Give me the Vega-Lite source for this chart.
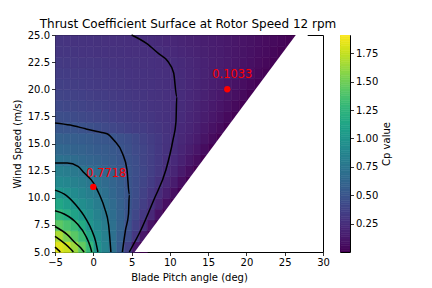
{
"$schema": "https://vega.github.io/schema/vega-lite/v6.json",
"background": "white",
"padding": {"left": 11, "top": 17, "right": 5, "bottom": 2},
"title": {"text": "Thrust Coefficient Surface at Rotor Speed 12 rpm", "anchor": "start", "dx": 28, "offset": -1, "fontSize": 12, "fontWeight": "normal", "font": "DejaVu Sans", "color": "black"},
"spacing": 9,
"datasets": {
"grid": [
{"p":-5,"v":5,"c":1.82},{"p":-4,"v":5,"c":1.76},{"p":-3,"v":5,"c":1.62},{"p":-2,"v":5,"c":1.45},{"p":-1,"v":5,"c":1.27},{"p":0,"v":5,"c":0.99},{"p":1,"v":5,"c":0.85},{"p":2,"v":5,"c":0.71},{"p":3,"v":5,"c":0.55},{"p":4,"v":5,"c":0.37},{"p":5,"v":5,"c":0.12},{"p":6,"v":5,"c":0.003},
{"p":-5,"v":6,"c":1.67},{"p":-4,"v":6,"c":1.53},{"p":-3,"v":6,"c":1.42},{"p":-2,"v":6,"c":1.31},{"p":-1,"v":6,"c":1.13},{"p":0,"v":6,"c":0.95},{"p":1,"v":6,"c":0.82},{"p":2,"v":6,"c":0.70},{"p":3,"v":6,"c":0.57},{"p":4,"v":6,"c":0.44},{"p":5,"v":6,"c":0.30},{"p":6,"v":6,"c":0.11},{"p":7,"v":6,"c":0.003},
{"p":-5,"v":7,"c":1.43},{"p":-4,"v":7,"c":1.36},{"p":-3,"v":7,"c":1.29},{"p":-2,"v":7,"c":1.16},{"p":-1,"v":7,"c":0.99},{"p":0,"v":7,"c":0.90},{"p":1,"v":7,"c":0.80},{"p":2,"v":7,"c":0.70},{"p":3,"v":7,"c":0.59},{"p":4,"v":7,"c":0.48},{"p":5,"v":7,"c":0.36},{"p":6,"v":7,"c":0.25},{"p":7,"v":7,"c":0.09},{"p":8,"v":7,"c":0.003},
{"p":-5,"v":8,"c":1.26},{"p":-4,"v":8,"c":1.19},{"p":-3,"v":8,"c":1.10},{"p":-2,"v":8,"c":1.01},{"p":-1,"v":8,"c":0.93},{"p":0,"v":8,"c":0.84},{"p":1,"v":8,"c":0.76},{"p":2,"v":8,"c":0.68},{"p":3,"v":8,"c":0.59},{"p":4,"v":8,"c":0.50},{"p":5,"v":8,"c":0.40},{"p":6,"v":8,"c":0.31},{"p":7,"v":8,"c":0.21},{"p":8,"v":8,"c":0.08},{"p":9,"v":8,"c":0.003},
{"p":-5,"v":9,"c":1.13},{"p":-4,"v":9,"c":1.06},{"p":-3,"v":9,"c":1.00},{"p":-2,"v":9,"c":0.93},{"p":-1,"v":9,"c":0.87},{"p":0,"v":9,"c":0.80},{"p":1,"v":9,"c":0.73},{"p":2,"v":9,"c":0.66},{"p":3,"v":9,"c":0.58},{"p":4,"v":9,"c":0.51},{"p":5,"v":9,"c":0.43},{"p":6,"v":9,"c":0.35},{"p":7,"v":9,"c":0.27},{"p":8,"v":9,"c":0.18},{"p":9,"v":9,"c":0.075},{"p":10,"v":9,"c":0.003},
{"p":-5,"v":10,"c":1.00},{"p":-4,"v":10,"c":0.96},{"p":-3,"v":10,"c":0.91},{"p":-2,"v":10,"c":0.86},{"p":-1,"v":10,"c":0.81},{"p":0,"v":10,"c":0.76},{"p":1,"v":10,"c":0.70},{"p":2,"v":10,"c":0.63},{"p":3,"v":10,"c":0.57},{"p":4,"v":10,"c":0.51},{"p":5,"v":10,"c":0.44},{"p":6,"v":10,"c":0.37},{"p":7,"v":10,"c":0.30},{"p":8,"v":10,"c":0.235},{"p":9,"v":10,"c":0.16},{"p":10,"v":10,"c":0.07},{"p":11,"v":10,"c":0.003},
{"p":-5,"v":11,"c":0.90},{"p":-4,"v":11,"c":0.87},{"p":-3,"v":11,"c":0.83},{"p":-2,"v":11,"c":0.80},{"p":-1,"v":11,"c":0.76},{"p":0,"v":11,"c":0.72},{"p":1,"v":11,"c":0.66},{"p":2,"v":11,"c":0.61},{"p":3,"v":11,"c":0.56},{"p":4,"v":11,"c":0.50},{"p":5,"v":11,"c":0.44},{"p":6,"v":11,"c":0.39},{"p":7,"v":11,"c":0.33},{"p":8,"v":11,"c":0.27},{"p":9,"v":11,"c":0.21},{"p":10,"v":11,"c":0.14},{"p":11,"v":11,"c":0.067},{"p":12,"v":11,"c":0.003},
{"p":-5,"v":12,"c":0.82},{"p":-4,"v":12,"c":0.80},{"p":-3,"v":12,"c":0.77},{"p":-2,"v":12,"c":0.75},{"p":-1,"v":12,"c":0.71},{"p":0,"v":12,"c":0.67},{"p":1,"v":12,"c":0.62},{"p":2,"v":12,"c":0.58},{"p":3,"v":12,"c":0.54},{"p":4,"v":12,"c":0.50},{"p":5,"v":12,"c":0.45},{"p":6,"v":12,"c":0.40},{"p":7,"v":12,"c":0.35},{"p":8,"v":12,"c":0.30},{"p":9,"v":12,"c":0.25},{"p":10,"v":12,"c":0.19},{"p":11,"v":12,"c":0.13},{"p":12,"v":12,"c":0.063},{"p":13,"v":12,"c":0.003},
{"p":-5,"v":13,"c":0.72},{"p":-4,"v":13,"c":0.69},{"p":-3,"v":13,"c":0.67},{"p":-2,"v":13,"c":0.64},{"p":-1,"v":13,"c":0.61},{"p":0,"v":13,"c":0.59},{"p":1,"v":13,"c":0.56},{"p":2,"v":13,"c":0.54},{"p":3,"v":13,"c":0.51},{"p":4,"v":13,"c":0.48},{"p":5,"v":13,"c":0.44},{"p":6,"v":13,"c":0.39},{"p":7,"v":13,"c":0.35},{"p":8,"v":13,"c":0.31},{"p":9,"v":13,"c":0.26},{"p":10,"v":13,"c":0.22},{"p":11,"v":13,"c":0.17},{"p":12,"v":13,"c":0.115},{"p":13,"v":13,"c":0.058},{"p":14,"v":13,"c":0.003},
{"p":-5,"v":14,"c":0.64},{"p":-4,"v":14,"c":0.62},{"p":-3,"v":14,"c":0.60},{"p":-2,"v":14,"c":0.59},{"p":-1,"v":14,"c":0.57},{"p":0,"v":14,"c":0.55},{"p":1,"v":14,"c":0.54},{"p":2,"v":14,"c":0.52},{"p":3,"v":14,"c":0.50},{"p":4,"v":14,"c":0.46},{"p":5,"v":14,"c":0.42},{"p":6,"v":14,"c":0.39},{"p":7,"v":14,"c":0.35},{"p":8,"v":14,"c":0.31},{"p":9,"v":14,"c":0.27},{"p":10,"v":14,"c":0.235},{"p":11,"v":14,"c":0.19},{"p":12,"v":14,"c":0.15},{"p":13,"v":14,"c":0.104},{"p":14,"v":14,"c":0.054},{"p":15,"v":14,"c":0.003},
{"p":-5,"v":15,"c":0.58},{"p":-4,"v":15,"c":0.57},{"p":-3,"v":15,"c":0.56},{"p":-2,"v":15,"c":0.55},{"p":-1,"v":15,"c":0.54},{"p":0,"v":15,"c":0.52},{"p":1,"v":15,"c":0.51},{"p":2,"v":15,"c":0.50},{"p":3,"v":15,"c":0.47},{"p":4,"v":15,"c":0.44},{"p":5,"v":15,"c":0.41},{"p":6,"v":15,"c":0.37},{"p":7,"v":15,"c":0.34},{"p":8,"v":15,"c":0.31},{"p":9,"v":15,"c":0.28},{"p":10,"v":15,"c":0.25},{"p":11,"v":15,"c":0.21},{"p":12,"v":15,"c":0.175},{"p":13,"v":15,"c":0.136},{"p":14,"v":15,"c":0.095},{"p":15,"v":15,"c":0.05},{"p":16,"v":15,"c":0.003},
{"p":-5,"v":16,"c":0.51},{"p":-4,"v":16,"c":0.50},{"p":-3,"v":16,"c":0.50},{"p":-2,"v":16,"c":0.48},{"p":-1,"v":16,"c":0.46},{"p":0,"v":16,"c":0.44},{"p":1,"v":16,"c":0.42},{"p":2,"v":16,"c":0.40},{"p":3,"v":16,"c":0.38},{"p":4,"v":16,"c":0.36},{"p":5,"v":16,"c":0.34},{"p":6,"v":16,"c":0.33},{"p":7,"v":16,"c":0.31},{"p":8,"v":16,"c":0.29},{"p":9,"v":16,"c":0.27},{"p":10,"v":16,"c":0.25},{"p":11,"v":16,"c":0.22},{"p":12,"v":16,"c":0.19},{"p":13,"v":16,"c":0.16},{"p":14,"v":16,"c":0.124},{"p":15,"v":16,"c":0.088},{"p":16,"v":16,"c":0.049},{"p":17,"v":16,"c":0.004},{"p":18,"v":16,"c":0.003},
{"p":-5,"v":17,"c":0.453},{"p":-4,"v":17,"c":0.44},{"p":-3,"v":17,"c":0.427},{"p":-2,"v":17,"c":0.414},{"p":-1,"v":17,"c":0.40},{"p":0,"v":17,"c":0.387},{"p":1,"v":17,"c":0.374},{"p":2,"v":17,"c":0.36},{"p":3,"v":17,"c":0.347},{"p":4,"v":17,"c":0.334},{"p":5,"v":17,"c":0.321},{"p":6,"v":17,"c":0.307},{"p":7,"v":17,"c":0.294},{"p":8,"v":17,"c":0.281},{"p":9,"v":17,"c":0.267},{"p":10,"v":17,"c":0.254},{"p":11,"v":17,"c":0.23},{"p":12,"v":17,"c":0.20},{"p":13,"v":17,"c":0.174},{"p":14,"v":17,"c":0.144},{"p":15,"v":17,"c":0.114},{"p":16,"v":17,"c":0.081},{"p":17,"v":17,"c":0.046},{"p":18,"v":17,"c":0.005},{"p":19,"v":17,"c":0.003},
{"p":-5,"v":18,"c":0.415},{"p":-4,"v":18,"c":0.404},{"p":-3,"v":18,"c":0.393},{"p":-2,"v":18,"c":0.383},{"p":-1,"v":18,"c":0.372},{"p":0,"v":18,"c":0.361},{"p":1,"v":18,"c":0.351},{"p":2,"v":18,"c":0.34},{"p":3,"v":18,"c":0.329},{"p":4,"v":18,"c":0.318},{"p":5,"v":18,"c":0.308},{"p":6,"v":18,"c":0.297},{"p":7,"v":18,"c":0.286},{"p":8,"v":18,"c":0.276},{"p":9,"v":18,"c":0.265},{"p":10,"v":18,"c":0.254},{"p":11,"v":18,"c":0.235},{"p":12,"v":18,"c":0.21},{"p":13,"v":18,"c":0.18},{"p":14,"v":18,"c":0.16},{"p":15,"v":18,"c":0.13},{"p":16,"v":18,"c":0.104},{"p":17,"v":18,"c":0.075},{"p":18,"v":18,"c":0.043},{"p":19,"v":18,"c":0.006},{"p":20,"v":18,"c":0.003},
{"p":-5,"v":19,"c":0.386},{"p":-4,"v":19,"c":0.377},{"p":-3,"v":19,"c":0.368},{"p":-2,"v":19,"c":0.359},{"p":-1,"v":19,"c":0.35},{"p":0,"v":19,"c":0.341},{"p":1,"v":19,"c":0.333},{"p":2,"v":19,"c":0.324},{"p":3,"v":19,"c":0.315},{"p":4,"v":19,"c":0.306},{"p":5,"v":19,"c":0.297},{"p":6,"v":19,"c":0.288},{"p":7,"v":19,"c":0.28},{"p":8,"v":19,"c":0.271},{"p":9,"v":19,"c":0.262},{"p":10,"v":19,"c":0.253},{"p":11,"v":19,"c":0.236},{"p":12,"v":19,"c":0.214},{"p":13,"v":19,"c":0.19},{"p":14,"v":19,"c":0.17},{"p":15,"v":19,"c":0.145},{"p":16,"v":19,"c":0.12},{"p":17,"v":19,"c":0.095},{"p":18,"v":19,"c":0.069},{"p":19,"v":19,"c":0.041},{"p":20,"v":19,"c":0.008},{"p":21,"v":19,"c":0.003},
{"p":-5,"v":20,"c":0.356},{"p":-4,"v":20,"c":0.349},{"p":-3,"v":20,"c":0.342},{"p":-2,"v":20,"c":0.335},{"p":-1,"v":20,"c":0.328},{"p":0,"v":20,"c":0.321},{"p":1,"v":20,"c":0.314},{"p":2,"v":20,"c":0.307},{"p":3,"v":20,"c":0.30},{"p":4,"v":20,"c":0.293},{"p":5,"v":20,"c":0.286},{"p":6,"v":20,"c":0.279},{"p":7,"v":20,"c":0.272},{"p":8,"v":20,"c":0.265},{"p":9,"v":20,"c":0.258},{"p":10,"v":20,"c":0.251},{"p":11,"v":20,"c":0.234},{"p":12,"v":20,"c":0.214},{"p":13,"v":20,"c":0.195},{"p":14,"v":20,"c":0.174},{"p":15,"v":20,"c":0.154},{"p":16,"v":20,"c":0.132},{"p":17,"v":20,"c":0.11},{"p":18,"v":20,"c":0.088},{"p":19,"v":20,"c":0.064},{"p":20,"v":20,"c":0.038},{"p":21,"v":20,"c":0.009},{"p":22,"v":20,"c":0.003},
{"p":-5,"v":21,"c":0.337},{"p":-4,"v":21,"c":0.331},{"p":-3,"v":21,"c":0.326},{"p":-2,"v":21,"c":0.32},{"p":-1,"v":21,"c":0.314},{"p":0,"v":21,"c":0.308},{"p":1,"v":21,"c":0.302},{"p":2,"v":21,"c":0.297},{"p":3,"v":21,"c":0.291},{"p":4,"v":21,"c":0.285},{"p":5,"v":21,"c":0.279},{"p":6,"v":21,"c":0.273},{"p":7,"v":21,"c":0.268},{"p":8,"v":21,"c":0.262},{"p":9,"v":21,"c":0.256},{"p":10,"v":21,"c":0.25},{"p":11,"v":21,"c":0.233},{"p":12,"v":21,"c":0.214},{"p":13,"v":21,"c":0.197},{"p":14,"v":21,"c":0.179},{"p":15,"v":21,"c":0.16},{"p":16,"v":21,"c":0.14},{"p":17,"v":21,"c":0.122},{"p":18,"v":21,"c":0.10},{"p":19,"v":21,"c":0.08},{"p":20,"v":21,"c":0.06},{"p":21,"v":21,"c":0.037},{"p":22,"v":21,"c":0.01},{"p":23,"v":21,"c":0.003},
{"p":-5,"v":22,"c":0.318},{"p":-4,"v":22,"c":0.313},{"p":-3,"v":22,"c":0.308},{"p":-2,"v":22,"c":0.303},{"p":-1,"v":22,"c":0.299},{"p":0,"v":22,"c":0.294},{"p":1,"v":22,"c":0.289},{"p":2,"v":22,"c":0.284},{"p":3,"v":22,"c":0.28},{"p":4,"v":22,"c":0.275},{"p":5,"v":22,"c":0.27},{"p":6,"v":22,"c":0.266},{"p":7,"v":22,"c":0.261},{"p":8,"v":22,"c":0.256},{"p":9,"v":22,"c":0.251},{"p":10,"v":22,"c":0.239},{"p":11,"v":22,"c":0.224},{"p":12,"v":22,"c":0.208},{"p":13,"v":22,"c":0.193},{"p":14,"v":22,"c":0.177},{"p":15,"v":22,"c":0.16},{"p":16,"v":22,"c":0.144},{"p":17,"v":22,"c":0.127},{"p":18,"v":22,"c":0.11},{"p":19,"v":22,"c":0.092},{"p":20,"v":22,"c":0.074},{"p":21,"v":22,"c":0.055},{"p":22,"v":22,"c":0.034},{"p":23,"v":22,"c":0.01},{"p":24,"v":22,"c":0.003},
{"p":-5,"v":23,"c":0.298},{"p":-4,"v":23,"c":0.294},{"p":-3,"v":23,"c":0.29},{"p":-2,"v":23,"c":0.287},{"p":-1,"v":23,"c":0.283},{"p":0,"v":23,"c":0.279},{"p":1,"v":23,"c":0.275},{"p":2,"v":23,"c":0.271},{"p":3,"v":23,"c":0.268},{"p":4,"v":23,"c":0.264},{"p":5,"v":23,"c":0.26},{"p":6,"v":23,"c":0.256},{"p":7,"v":23,"c":0.252},{"p":8,"v":23,"c":0.246},{"p":9,"v":23,"c":0.233},{"p":10,"v":23,"c":0.22},{"p":11,"v":23,"c":0.207},{"p":12,"v":23,"c":0.194},{"p":13,"v":23,"c":0.18},{"p":14,"v":23,"c":0.167},{"p":15,"v":23,"c":0.153},{"p":16,"v":23,"c":0.139},{"p":17,"v":23,"c":0.125},{"p":18,"v":23,"c":0.11},{"p":19,"v":23,"c":0.095},{"p":20,"v":23,"c":0.081},{"p":21,"v":23,"c":0.064},{"p":22,"v":23,"c":0.048},{"p":23,"v":23,"c":0.03},{"p":24,"v":23,"c":0.01},{"p":25,"v":23,"c":0.003},
{"p":-5,"v":24,"c":0.288},{"p":-4,"v":24,"c":0.284},{"p":-3,"v":24,"c":0.281},{"p":-2,"v":24,"c":0.277},{"p":-1,"v":24,"c":0.274},{"p":0,"v":24,"c":0.27},{"p":1,"v":24,"c":0.266},{"p":2,"v":24,"c":0.263},{"p":3,"v":24,"c":0.259},{"p":4,"v":24,"c":0.256},{"p":5,"v":24,"c":0.252},{"p":6,"v":24,"c":0.247},{"p":7,"v":24,"c":0.236},{"p":8,"v":24,"c":0.226},{"p":9,"v":24,"c":0.214},{"p":10,"v":24,"c":0.204},{"p":11,"v":24,"c":0.192},{"p":12,"v":24,"c":0.181},{"p":13,"v":24,"c":0.169},{"p":14,"v":24,"c":0.158},{"p":15,"v":24,"c":0.146},{"p":16,"v":24,"c":0.134},{"p":17,"v":24,"c":0.122},{"p":18,"v":24,"c":0.11},{"p":19,"v":24,"c":0.097},{"p":20,"v":24,"c":0.084},{"p":21,"v":24,"c":0.071},{"p":22,"v":24,"c":0.057},{"p":23,"v":24,"c":0.043},{"p":24,"v":24,"c":0.028},{"p":25,"v":24,"c":0.01},{"p":26,"v":24,"c":0.003}
],
"edge": [
{"v":5,"pb":5.4},
{"v":25,"pb":26.45}
],
"contours": [
{"k":"A","i":0,"p":5.0,"v":25},{"k":"A","i":1,"p":7.0,"v":24.2},{"k":"A","i":2,"p":8.5,"v":23.3},{"k":"A","i":3,"p":9.7,"v":22.6},{"k":"A","i":4,"p":10.5,"v":21.5},{"k":"A","i":5,"p":10.9,"v":19.3},{"k":"A","i":6,"p":10.8,"v":17},{"k":"A","i":7,"p":10.4,"v":15.3},{"k":"A","i":8,"p":9.5,"v":12.6},{"k":"A","i":9,"p":7.9,"v":9.8},{"k":"A","i":10,"p":6.2,"v":7.0},{"k":"A","i":11,"p":4.7,"v":5},
{"k":"B","i":0,"p":-5,"v":16.9},{"k":"B","i":1,"p":-3,"v":16.7},{"k":"B","i":2,"p":-1,"v":16.35},{"k":"B","i":3,"p":0.5,"v":16.1},{"k":"B","i":4,"p":1.8,"v":15.9},{"k":"B","i":5,"p":2.7,"v":15.3},{"k":"B","i":6,"p":3.8,"v":14.1},{"k":"B","i":7,"p":4.4,"v":12.6},{"k":"B","i":8,"p":4.7,"v":10.3},{"k":"B","i":9,"p":4.6,"v":8.5},{"k":"B","i":10,"p":4.2,"v":7.0},{"k":"B","i":11,"p":3.8,"v":5},
{"k":"C","i":0,"p":-5,"v":13.2},{"k":"C","i":1,"p":-3.4,"v":13.2},{"k":"C","i":2,"p":-2,"v":12.9},{"k":"C","i":3,"p":-1.2,"v":12.3},{"k":"C","i":4,"p":0,"v":11.4},{"k":"C","i":5,"p":0.8,"v":10.3},{"k":"C","i":6,"p":1.5,"v":9},{"k":"C","i":7,"p":2,"v":7.5},{"k":"C","i":8,"p":2.3,"v":5},
{"k":"D","i":0,"p":-5,"v":10.7},{"k":"D","i":1,"p":-3.5,"v":10.2},{"k":"D","i":2,"p":-2.3,"v":9.35},{"k":"D","i":3,"p":-1,"v":8.1},{"k":"D","i":4,"p":-0.2,"v":7.0},{"k":"D","i":5,"p":0.3,"v":6.0},{"k":"D","i":6,"p":0.6,"v":5},
{"k":"E","i":0,"p":-5,"v":8.8},{"k":"E","i":1,"p":-3.8,"v":8.5},{"k":"E","i":2,"p":-2.1,"v":7.6},{"k":"E","i":3,"p":-1,"v":6.5},{"k":"E","i":4,"p":-0.4,"v":5.5},{"k":"E","i":5,"p":-0.2,"v":5},
{"k":"F","i":0,"p":-5,"v":7.35},{"k":"F","i":1,"p":-3.4,"v":6.6},{"k":"F","i":2,"p":-2.3,"v":5.8},{"k":"F","i":3,"p":-1.65,"v":5.4},{"k":"F","i":4,"p":-1.2,"v":5},
{"k":"G","i":0,"p":-5,"v":6.45},{"k":"G","i":1,"p":-4.3,"v":6.1},{"k":"G","i":2,"p":-3.6,"v":5.7},{"k":"G","i":3,"p":-3.0,"v":5.3},{"k":"G","i":4,"p":-2.6,"v":5},
{"k":"H","i":0,"p":-5,"v":5.45},{"k":"H","i":1,"p":-4.6,"v":5.2},{"k":"H","i":2,"p":-4.3,"v":5}
],
"pts": [
{"p":0,"v":11,"lab":"0.7718"},
{"p":17.5,"v":20,"lab":"0.1033"}
],
"cbar": [
{"c":0.00},{"c":0.02},{"c":0.04},{"c":0.06},{"c":0.08},{"c":0.10},{"c":0.12},{"c":0.14},{"c":0.16},{"c":0.18},
{"c":0.20},{"c":0.22},{"c":0.24},{"c":0.26},{"c":0.28},{"c":0.30},{"c":0.32},{"c":0.34},{"c":0.36},{"c":0.38},
{"c":0.40},{"c":0.42},{"c":0.44},{"c":0.46},{"c":0.48},{"c":0.50},{"c":0.52},{"c":0.54},{"c":0.56},{"c":0.58},
{"c":0.60},{"c":0.62},{"c":0.64},{"c":0.66},{"c":0.68},{"c":0.70},{"c":0.72},{"c":0.74},{"c":0.76},{"c":0.78},
{"c":0.80},{"c":0.82},{"c":0.84},{"c":0.86},{"c":0.88},{"c":0.90},{"c":0.92},{"c":0.94},{"c":0.96},{"c":0.98},
{"c":1.00},{"c":1.02},{"c":1.04},{"c":1.06},{"c":1.08},{"c":1.10},{"c":1.12},{"c":1.14},{"c":1.16},{"c":1.18},
{"c":1.20},{"c":1.22},{"c":1.24},{"c":1.26},{"c":1.28},{"c":1.30},{"c":1.32},{"c":1.34},{"c":1.36},{"c":1.38},
{"c":1.40},{"c":1.42},{"c":1.44},{"c":1.46},{"c":1.48},{"c":1.50},{"c":1.52},{"c":1.54},{"c":1.56},{"c":1.58},
{"c":1.60},{"c":1.62},{"c":1.64},{"c":1.66},{"c":1.68},{"c":1.70},{"c":1.72},{"c":1.74},{"c":1.76},{"c":1.78},
{"c":1.80},{"c":1.82},{"c":1.84},{"c":1.86},{"c":1.88},{"c":1.90}
]
},
"hconcat": [
{
"width": 268,
"height": 217,
"layer": [
{
"data": {"name": "grid"},
"mark": {"type": "rect", "binSpacing": 0, "strokeWidth": 0.6},
"encoding": {
"x": {"field": "p", "type": "quantitative", "bin": {"binned": true, "step": 1}, "title": "Blade Pitch angle (deg)", "scale": {"domain": [-5, 30], "nice": false, "zero": false}, "axis": {"values": [-5, 0, 5, 10, 15, 20, 25, 30], "format": "d"}},
"y": {"field": "v", "type": "quantitative", "bin": {"binned": true, "step": 1}, "title": "Wind Speed (m/s)", "scale": {"domain": [5, 25], "nice": false, "zero": false}, "axis": {"values": [5, 7.5, 10, 12.5, 15, 17.5, 20, 22.5, 25], "format": ".1f"}},
"color": {"field": "c", "type": "quantitative", "scale": {"scheme": "viridis", "domain": [0.001, 1.91]}, "legend": null},
"stroke": {"field": "c", "type": "quantitative", "scale": {"scheme": "viridis", "domain": [0.001, 1.91]}, "legend": null}
}
},
{
"data": {"name": "edge"},
"mark": {"type": "area", "orient": "horizontal", "fill": "white", "opacity": 1},
"encoding": {
"y": {"field": "v", "type": "quantitative", "title": "Wind Speed (m/s)"},
"x": {"field": "pb", "type": "quantitative", "title": "Blade Pitch angle (deg)"},
"x2": {"datum": 28}
}
},
{
"data": {"name": "contours"},
"mark": {"type": "line", "color": "black", "strokeWidth": 1.5, "interpolate": "monotone"},
"encoding": {
"x": {"field": "p", "type": "quantitative", "title": "Blade Pitch angle (deg)"},
"y": {"field": "v", "type": "quantitative", "title": "Wind Speed (m/s)"},
"detail": {"field": "k"},
"order": {"field": "i", "type": "quantitative"}
}
},
{
"data": {"name": "pts"},
"mark": {"type": "circle", "color": "#ff0000", "opacity": 1, "size": 40},
"encoding": {
"x": {"field": "p", "type": "quantitative", "title": "Blade Pitch angle (deg)"},
"y": {"field": "v", "type": "quantitative", "title": "Wind Speed (m/s)"}
}
},
{
"data": {"name": "pts"},
"transform": [{"filter": "datum.lab == '0.7718'"}],
"mark": {"type": "text", "color": "#ff0000", "font": "DejaVu Sans", "fontSize": 11.5, "align": "center", "baseline": "alphabetic", "dx": 13, "dy": -10},
"encoding": {
"x": {"field": "p", "type": "quantitative", "title": "Blade Pitch angle (deg)"},
"y": {"field": "v", "type": "quantitative", "title": "Wind Speed (m/s)"},
"text": {"field": "lab"}
}
},
{
"data": {"name": "pts"},
"transform": [{"filter": "datum.lab == '0.1033'"}],
"mark": {"type": "text", "color": "#ff0000", "font": "DejaVu Sans", "fontSize": 11.5, "align": "center", "baseline": "alphabetic", "dx": 5, "dy": -11},
"encoding": {
"x": {"field": "p", "type": "quantitative", "title": "Blade Pitch angle (deg)"},
"y": {"field": "v", "type": "quantitative", "title": "Wind Speed (m/s)"},
"text": {"field": "lab"}
}
}
]
},
{
"width": 10,
"height": 217,
"data": {"name": "cbar"},
"mark": {"type": "rect", "binSpacing": 0, "clip": true, "strokeWidth": 0.6},
"encoding": {
"y": {"field": "c", "type": "quantitative", "bin": {"binned": true, "step": 0.02}, "title": "Cp value", "scale": {"domain": [0.001, 1.91], "nice": false, "zero": false}, "axis": {"orient": "right", "values": [0.25, 0.5, 0.75, 1.0, 1.25, 1.5, 1.75], "format": ".2f", "titleAngle": 270, "titleBaseline": "top", "titlePadding": 4}},
"color": {"field": "c", "type": "quantitative", "scale": {"scheme": "viridis", "domain": [0.001, 1.91]}, "legend": null},
"stroke": {"field": "c", "type": "quantitative", "scale": {"scheme": "viridis", "domain": [0.001, 1.91]}, "legend": null}
}
}
],
"config": {
"font": "DejaVu Sans",
"view": {"stroke": "black", "strokeWidth": 1},
"axis": {"grid": false, "domain": false, "ticks": true, "tickColor": "black", "tickSize": 3.5, "tickWidth": 0.8, "labelColor": "black", "labelFont": "DejaVu Sans", "labelFontSize": 10, "labelPadding": 2, "titleFont": "DejaVu Sans", "titleFontSize": 10, "titleFontWeight": "normal", "titleColor": "black", "titlePadding": 5, "labelFlush": false, "labelOverlap": false}
}
}
